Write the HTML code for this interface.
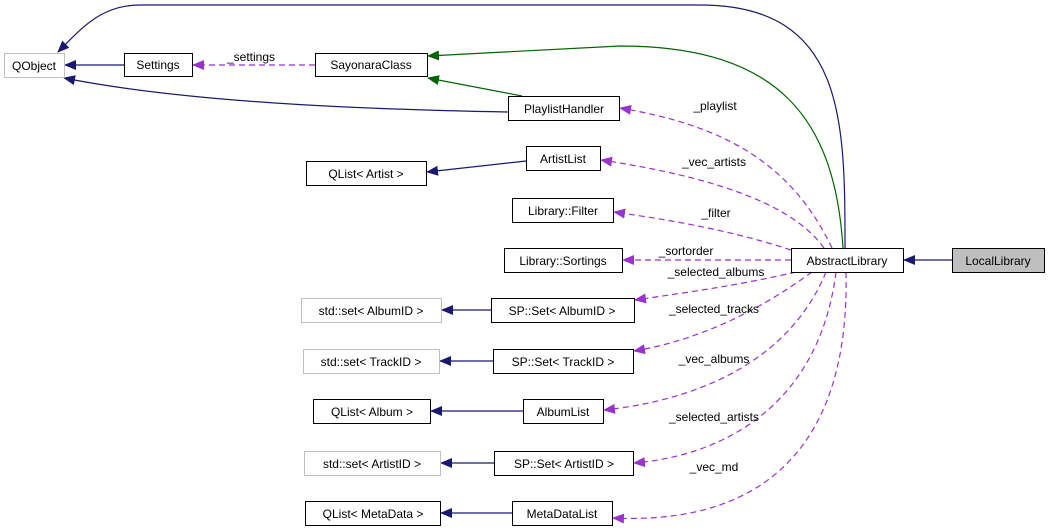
<!DOCTYPE html>
<html><head><meta charset="utf-8"><style>
html,body{margin:0;padding:0;background:#fff;}
svg{display:block;font-family:"Liberation Sans",Arial,sans-serif;font-size:12px;}
</style></head><body>
<svg width="1049" height="532" viewBox="0 0 1049 532" xmlns="http://www.w3.org/2000/svg">
<defs>
<marker id="an" markerWidth="12" markerHeight="10" refX="11" refY="5" orient="auto" markerUnits="userSpaceOnUse"><path d="M0,0 L12,5 L0,10 z" fill="#191970"/></marker>
<marker id="ag" markerWidth="12" markerHeight="10" refX="11" refY="5" orient="auto" markerUnits="userSpaceOnUse"><path d="M0,0 L12,5 L0,10 z" fill="#006400"/></marker>
<marker id="ap" markerWidth="12" markerHeight="10" refX="11" refY="5" orient="auto" markerUnits="userSpaceOnUse"><path d="M0,0 L12,5 L0,10 z" fill="#9a32cd"/></marker>
</defs>
<g fill="none" stroke-width="1.2">
<path d="M845,248 C845,120 845,5 700,5 L140,5 C100,5 80,30 58,52" stroke="#191970" marker-end="url(#an)"/>
<path d="M843,248 C835,120 780,46 620,46 L428,56" stroke="#006400" marker-end="url(#ag)"/>
<path d="M522,96 L428,78" stroke="#006400" marker-end="url(#ag)"/>
<path d="M508,112 C400,110 200,105 64,78" stroke="#191970" marker-end="url(#an)"/>
<path d="M124,65 L65,65" stroke="#191970" marker-end="url(#an)"/>
<path d="M526,161 L427,172" stroke="#191970" marker-end="url(#an)"/>
<path d="M491,310 L442,310" stroke="#191970" marker-end="url(#an)"/>
<path d="M493,361 L440,361" stroke="#191970" marker-end="url(#an)"/>
<path d="M523,411 L431,411" stroke="#191970" marker-end="url(#an)"/>
<path d="M494,463 L441,463" stroke="#191970" marker-end="url(#an)"/>
<path d="M512,513 L441,513" stroke="#191970" marker-end="url(#an)"/>
<path d="M952,260 L904,260" stroke="#191970" marker-end="url(#an)"/>
<g stroke="#9a32cd" stroke-dasharray="6,4">
<path d="M315,65 L193,65" marker-end="url(#ap)"/>
<path d="M832,248 C790,160 720,125 620,108" marker-end="url(#ap)"/>
<path d="M824,248 C790,200 700,175 601,160" marker-end="url(#ap)"/>
<path d="M791,250 C730,230 670,220 614,212" marker-end="url(#ap)"/>
<path d="M791,260 L623,260" marker-end="url(#ap)"/>
<path d="M796,272 C740,285 690,292 635,300" marker-end="url(#ap)"/>
<path d="M812,272 C760,310 700,340 634,351" marker-end="url(#ap)"/>
<path d="M826,272 C790,360 700,400 604,410" marker-end="url(#ap)"/>
<path d="M836,272 C820,400 730,455 634,463" marker-end="url(#ap)"/>
<path d="M846,272 C850,450 760,525 613,518" marker-end="url(#ap)"/>
</g>
</g>
<g stroke-width="1">
<rect x="4.5" y="53.5" width="60" height="24" fill="#fff" stroke="#bfbfbf"/>
<rect x="124.5" y="53.5" width="68" height="23" fill="#fff" stroke="#000"/>
<rect x="315.5" y="53.5" width="112" height="23" fill="#fff" stroke="#000"/>
<rect x="508.5" y="96.5" width="111" height="24" fill="#fff" stroke="#000"/>
<rect x="526.5" y="146.5" width="74" height="24" fill="#fff" stroke="#000"/>
<rect x="306.5" y="161.5" width="120" height="24" fill="#fff" stroke="#000"/>
<rect x="512.5" y="198.5" width="101" height="24" fill="#fff" stroke="#000"/>
<rect x="504.5" y="248.5" width="118" height="24" fill="#fff" stroke="#000"/>
<rect x="791.5" y="248.5" width="112" height="24" fill="#fff" stroke="#000"/>
<rect x="952.5" y="248.5" width="92" height="24" fill="#bfbfbf" stroke="#000"/>
<rect x="301.5" y="298.5" width="140" height="24" fill="#fff" stroke="#bfbfbf"/>
<rect x="491.5" y="298.5" width="143" height="24" fill="#fff" stroke="#000"/>
<rect x="303.5" y="349.5" width="136" height="24" fill="#fff" stroke="#bfbfbf"/>
<rect x="493.5" y="349.5" width="140" height="24" fill="#fff" stroke="#000"/>
<rect x="313.5" y="399.5" width="117" height="24" fill="#fff" stroke="#000"/>
<rect x="523.5" y="399.5" width="80" height="24" fill="#fff" stroke="#000"/>
<rect x="304.5" y="451.5" width="136" height="24" fill="#fff" stroke="#bfbfbf"/>
<rect x="494.5" y="451.5" width="139" height="24" fill="#fff" stroke="#000"/>
<rect x="305.5" y="501.5" width="135" height="24" fill="#fff" stroke="#000"/>
<rect x="512.5" y="501.5" width="100" height="24" fill="#fff" stroke="#000"/>
</g>
<g text-anchor="middle" fill="#000">
<text x="34" y="70">QObject</text>
<text x="158" y="69">Settings</text>
<text x="371" y="69">SayonaraClass</text>
<text x="564" y="113">PlaylistHandler</text>
<text x="563" y="163">ArtistList</text>
<text x="366" y="178">QList&lt; Artist &gt;</text>
<text x="563" y="215">Library::Filter</text>
<text x="563" y="265">Library::Sortings</text>
<text x="847" y="265">AbstractLibrary</text>
<text x="998" y="265">LocalLibrary</text>
<text x="371" y="315">std::set&lt; AlbumID &gt;</text>
<text x="562" y="315">SP::Set&lt; AlbumID &gt;</text>
<text x="371" y="366">std::set&lt; TrackID &gt;</text>
<text x="563" y="366">SP::Set&lt; TrackID &gt;</text>
<text x="372" y="416">QList&lt; Album &gt;</text>
<text x="563" y="416">AlbumList</text>
<text x="372" y="468">std::set&lt; ArtistID &gt;</text>
<text x="564" y="468">SP::Set&lt; ArtistID &gt;</text>
<text x="373" y="518">QList&lt; MetaData &gt;</text>
<text x="562" y="518">MetaDataList</text>
<text x="251" y="61">_settings</text>
<text x="715" y="110">_playlist</text>
<text x="714" y="166">_vec_artists</text>
<text x="716" y="217">_filter</text>
<text x="686" y="255">_sortorder</text>
<text x="716" y="276">_selected_albums</text>
<text x="714" y="313">_selected_tracks</text>
<text x="714" y="363">_vec_albums</text>
<text x="714" y="421">_selected_artists</text>
<text x="714" y="471">_vec_md</text>
</g>
</svg>
</body></html>
